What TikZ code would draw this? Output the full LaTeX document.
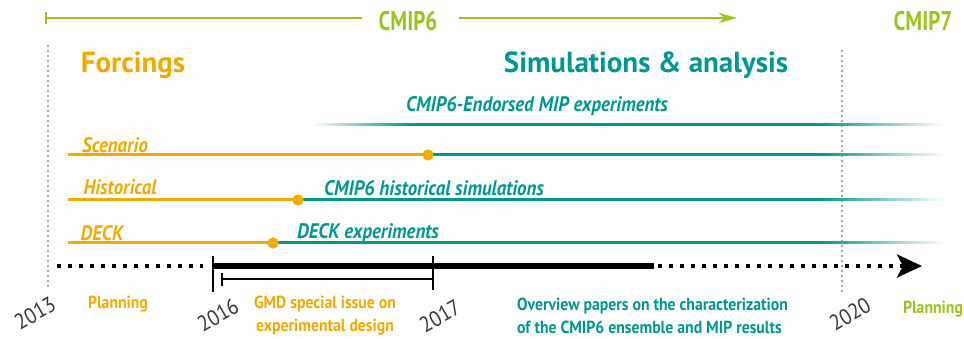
\documentclass[tikz,border=0pt]{standalone}
\usepackage{fontspec}
\setmainfont{PT Sans}[FakeStretch=0.9]
\newfontfamily\condfont{PT Sans}[FakeStretch=0.78]
\newfontfamily\headfont{PT Sans}
\usetikzlibrary{arrows.meta}
\definecolor{orng}{RGB}{240,170,0}
\definecolor{tealc}{RGB}{0,152,142}
\definecolor{limec}{RGB}{155,195,30}
\definecolor{dgray}{RGB}{55,55,55}
% fade-out of a teal line: #1 = y
\newcommand\tealfadeout[1]{%
  \foreach \i [evaluate=\i as \p using 100-\i*1.6] in {0,...,62}{%
    \fill[tealc!\p!white] (820+2*\i,#1-1.5) rectangle ++(2.3,3);}}
\newcommand\tealfadein[1]{%
  \foreach \i [evaluate=\i as \p using \i*2] in {0,...,50}{%
    \fill[tealc!\p!white] (310+2*\i,#1-1.5) rectangle ++(2.3,3);}}
\begin{document}
\begin{tikzpicture}[x=1pt,y=-1pt,
  big/.style={font=\headfont\bfseries\fontsize{29}{31}\selectfont, inner sep=0pt},
  cmip/.style={font=\condfont\bfseries\fontsize{27}{28}\selectfont, text=limec, inner sep=0pt},
  lbl/.style={font=\bfseries\itshape\fontsize{21}{22}\selectfont, inner sep=0pt},
  small/.style={font=\bfseries\fontsize{17.5}{23}\selectfont, inner sep=0pt},
  year/.style={font=\fontsize{22}{22}\selectfont, text=dgray, rotate=30, inner sep=0pt},
  orline/.style={orng, line width=3pt},
  tline/.style={tealc, line width=3pt},
  dot/.style={circle, fill=orng, minimum size=11pt, inner sep=0pt},
  vdots/.style={gray!70, line width=1.2pt, dash pattern=on 2pt off 3pt},
  bdots/.style={black, line width=3.5pt, dash pattern=on 3.5pt off 7.5pt},
]
\useasboundingbox (0,0) rectangle (964,339);

% top CMIP6 span
\node[cmip] (c6) at (408,21) {CMIP6};
\node[cmip] (c7) at (923,21) {CMIP7};
\coordinate (ts) at (46,18);
\coordinate (tm) at (362,18);
\coordinate (tn) at (459,18);
\coordinate (te) at (737,18);
\draw[limec, line width=2pt] (46,12) -- (46,24);
\draw[limec, line width=2pt] (ts) -- (tm);
\draw[limec, line width=2pt, -{Stealth[length=18pt,width=10pt,inset=5pt]}] (tn) -- (te);

% vertical dotted lines
\coordinate (v13a) at (48,45); \coordinate (v13b) at (48,287);
\coordinate (v20a) at (842,50); \coordinate (v20b) at (842,295);
\draw[vdots] (v13a) -- (v13b);
\draw[vdots] (v20a) -- (v20b);

% headings
\node[big, text=orng] (forc) at (133,65) {Forcings};
\node[big, text=tealc] (sim) at (646,65) {Simulations \& analysis};

% endorsed
\node[lbl, text=tealc] (endo) at (537,106) {CMIP6-Endorsed MIP experiments};
\tealfadein{125}
\fill[tealc] (410,123.5) rectangle (821,126.5);
\tealfadeout{125}

% scenario
\node[lbl, text=orng] (scen) at (115,145) {Scenario};
\node[dot] (ds) at (428,155) {};
\coordinate (s0) at (68,155);
\coordinate (s1) at (821,155);
\draw[orline] (s0) -- (ds.center);
\draw[tline] (ds.center) -- (s1);
\tealfadeout{155}
\node[dot] at (ds) {};

% historical
\node[lbl, text=orng] (hist) at (120,187) {Historical};
\node[lbl, text=tealc] (histsim) at (434,188) {CMIP6 historical simulations};
\node[dot] (dh) at (298,200) {};
\coordinate (h0) at (68,200);
\coordinate (h1) at (821,200);
\draw[orline] (h0) -- (dh.center);
\draw[tline] (dh.center) -- (h1);
\tealfadeout{200}
\node[dot] at (dh) {};

% deck
\node[lbl, text=orng] (deck) at (102,233) {DECK};
\node[lbl, text=tealc] (deckexp) at (368,233) {DECK experiments};
\node[dot] (dd) at (273,243) {};
\coordinate (d0) at (68,243);
\coordinate (d1) at (821,243);
\draw[orline] (d0) -- (dd.center);
\draw[tline] (dd.center) -- (d1);
\tealfadeout{243}
\node[dot] at (dd) {};

% timeline
\coordinate (a0) at (57,266);
\coordinate (a1) at (203,266);
\coordinate (b0) at (213,266);
\coordinate (b1) at (654,266);
\coordinate (c0) at (658,266);
\coordinate (c1) at (922,266);
\draw[bdots] (a0) -- (a1);
\draw[black, line width=5pt] (b0) -- (b1);
\draw[bdots, -{Stealth[length=25pt,width=23pt,inset=6pt]}] (c0) -- (c1);
\draw[black, line width=1.5pt] (213,256) -- (213,292);
\draw[black, line width=1.5pt] (433,256) -- (433,290);
\coordinate (g0) at (222,279);
\coordinate (g1) at (433,279);
\draw[black, line width=1.2pt] (g0) -- (g1);
\draw[black, line width=1.2pt] (222,273) -- (222,286);

% years
\node[year] (y13) at (35,313) {2013};
\node[year] (y16) at (218,315) {2016};
\node[year] (y17) at (440,316) {2017};
\node[year] (y20) at (850,314) {2020};

% bottom labels
\node[small, text=orng] (plan1) at (118,304) {Planning};
\node[small, text=orng, align=center] (gmd) at (325,316) {GMD special issue on\\experimental design};
\node[small, text=tealc, align=left, anchor=west] (over) at (517,316) {Overview papers on the characterization\\of the CMIP6 ensemble and MIP results};
\node[small, text=limec] (plan2) at (933,309) {Planning};
\end{tikzpicture}
\end{document}
